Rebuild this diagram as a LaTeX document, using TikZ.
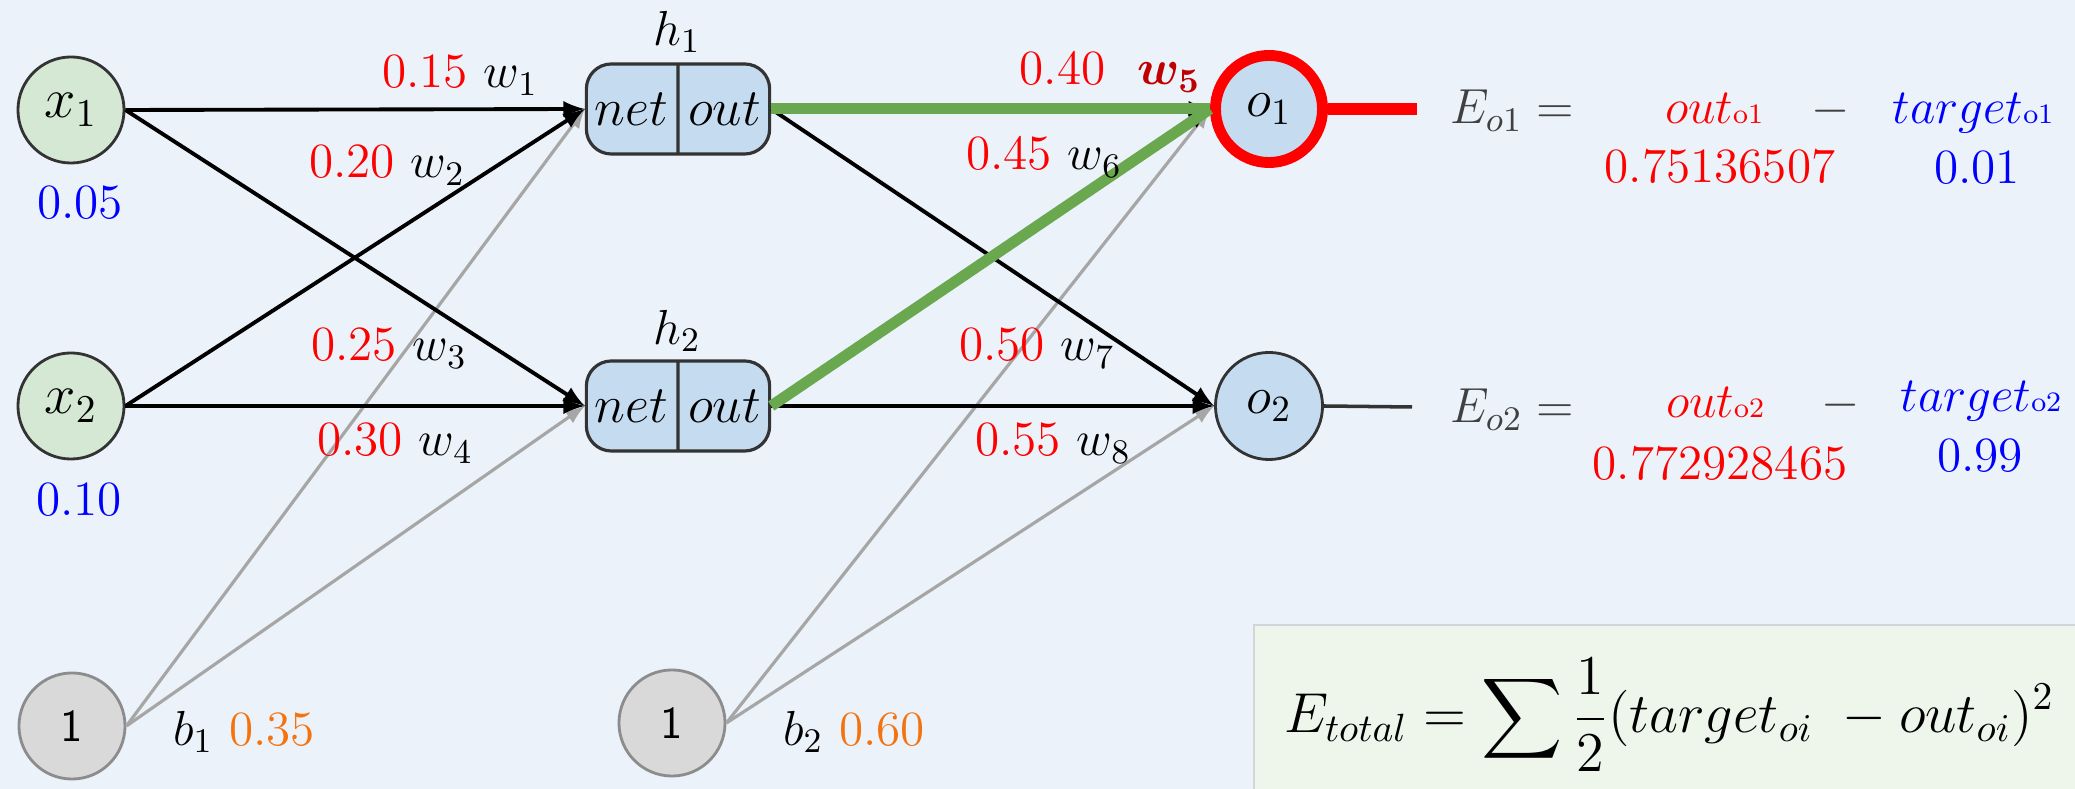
\RequirePackage{fix-cm}
\documentclass[tikz,border=0pt]{standalone}
\usepackage{amsmath}
\usepackage{amssymb}
\usepackage{bm}
\usepackage{tikz}
\usetikzlibrary{shapes.multipart}

\definecolor{bgblue}{HTML}{EBF2FA}
\definecolor{ingreen}{HTML}{D5E8D4}
\definecolor{nodeblue}{HTML}{C5DCF0}
\definecolor{biasgray}{HTML}{D9D9D9}
\definecolor{wiregray}{HTML}{A6A6A6}
\definecolor{hotgreen}{HTML}{6AA84F}
\definecolor{biasorange}{HTML}{F5730F}
\definecolor{wred}{HTML}{C00000}
\definecolor{txtgray}{HTML}{404040}
\definecolor{boxgreen}{HTML}{EEF6EC}
\definecolor{boxgray}{HTML}{D0D6DC}

\begin{document}
\begin{tikzpicture}[>=latex, x=0.01cm, y=-0.01cm,
	every node/.style={font=\fontsize{14}{17}\selectfont},
	innode/.style={circle, draw=black!80, line width=0.8pt, fill=ingreen, minimum size=1.06cm, inner sep=0pt, font=\fontsize{16}{19}\selectfont},
	outnode/.style={circle, draw=black!80, line width=0.8pt, fill=nodeblue, minimum size=1.07cm, inner sep=0pt, font=\fontsize{15}{18}\selectfont},
	biasnode/.style={circle, draw=black!45, line width=0.8pt, fill=biasgray, minimum size=1.06cm, inner sep=0pt, font=\fontsize{13}{16}\selectfont\sffamily},
	hidbox/.style={rectangle split, rectangle split horizontal, rectangle split parts=2, rounded corners=0.25cm, draw=black!80, line width=0.9pt, fill=nodeblue, minimum height=0.9cm, inner xsep=0pt, font=\fontsize{15}{18}\selectfont},
	wire/.style={->, line width=1.1pt, black},
	biaswire/.style={->, line width=0.9pt, wiregray},
	hotwire/.style={line width=0.11cm, hotgreen}]
	%%% Sfondo
	\fill[bgblue] (0,0) rectangle (2075,789);
	\useasboundingbox (0,0) rectangle (2075,789);
	%%% Nodi
	\node[innode] (x1) at (71,110) {$x_1$};
	\node[innode] (x2) at (71,406) {$x_2$};
	\node[biasnode] (b1) at (72,726) {1};
	\node[biasnode] (b2) at (672,723) {1};
	\node[hidbox] (h1) at (678,109) {\makebox[0.9cm]{$net$}\nodepart{two}\makebox[0.9cm]{$out$}};
	\node[hidbox] (h2) at (678,406) {\makebox[0.9cm]{$net$}\nodepart{two}\makebox[0.9cm]{$out$}};
	\node[outnode, draw=red, line width=3.1pt] (o1) at (1269,109) {$o_1$};
	\node[outnode] (o2) at (1269,406) {$o_2$};
	\coordinate (e1) at (1417,109);
	\coordinate (e2) at (1412,407);
	%%% Collegamenti
	\draw[biaswire] (b1.east) -- (h1.west);
	\draw[biaswire] (b1.east) -- (h2.west);
	\draw[biaswire] (b2.east) -- (o1.west);
	\draw[biaswire] (b2.east) -- (o2.west);
	\draw[wire] (x1.east) -- (h1.west);
	\draw[wire] (x1.east) -- (h2.west);
	\draw[wire] (x2.east) -- (h1.west);
	\draw[wire] (x2.east) -- (h2.west);
	\draw[wire] (h1.east) -- (o1.west);
	\draw[wire] (h1.east) -- (o2.west);
	\draw[wire] (h2.east) -- (o1.west);
	\draw[wire] (h2.east) -- (o2.west);
	\draw[hotwire] (h1.east) -- (o1.west);
	\draw[hotwire] (h2.east) -- (o1.west);
	\draw[red, line width=0.12cm] (o1.east) -- (e1);
	\draw[black!80, line width=1pt] (o2.east) -- (e2);
	%%% Etichette
	\node (h1lab) at (677,32) {$h_1$};
	\node (h2lab) at (677,331) {$h_2$};
	\node (x1val) at (80,203) {\textcolor{blue}{0.05}};
	\node (x2val) at (79,500) {\textcolor{blue}{0.10}};
	\node (b1lab) at (244,732) {$b_1$ \textcolor{biasorange}{0.35}};
	\node (b2lab) at (854,732) {$b_2$ \textcolor{biasorange}{0.60}};
	\node (w1lab) at (460,75) {\textcolor{red}{0.15} $w_1$};
	\node (w2lab) at (387,165) {\textcolor{red}{0.20} $w_2$};
	\node (w3lab) at (389,348) {\textcolor{red}{0.25} $w_3$};
	\node (w4lab) at (395,443) {\textcolor{red}{0.30} $w_4$};
	\node (w5lab) at (1110,72) {\textcolor{red}{0.40}\ \ \textcolor{wred}{$\bm{w_5}$}};
	\node (w6lab) at (1044,157) {\textcolor{red}{0.45} $w_6$};
	\node (w7lab) at (1037,348) {\textcolor{red}{0.50} $w_7$};
	\node (w8lab) at (1053,443) {\textcolor{red}{0.55} $w_8$};
	%%% Errori
	\node[anchor=base, txtgray] (eo1) at (1512,124) {$E_{o1} =$};
	\node[anchor=base, red] (out1) at (1714,124) {$out${\fontsize{8}{9}\selectfont o1}};
	\node[anchor=base, txtgray] (min1) at (1831,124) {$-$};
	\node[anchor=base, blue] (tg1) at (1973,124) {$target${\fontsize{8}{9}\selectfont o1}};
	\node[anchor=base, red] (ov1) at (1720,183) {0.75136507};
	\node[anchor=base, blue] (tv1) at (1977,184) {0.01};
	\node[anchor=base, txtgray] (eo2) at (1512,423) {$E_{o2} =$};
	\node[anchor=base, red] (out2) at (1715,418) {$out${\fontsize{8}{9}\selectfont o2}};
	\node[anchor=base, txtgray] (min2) at (1841,418) {$-$};
	\node[anchor=base, blue] (tg2) at (1981,412) {$target${\fontsize{8}{9}\selectfont o2}};
	\node[anchor=base, red] (ov2) at (1720,480) {0.772928465};
	\node[anchor=base, blue] (tv2) at (1980,472) {0.99};
	%%% Errore totale
	\draw[boxgray, fill=boxgreen] (1254,625) rectangle (2110,820);
	\node[anchor=west, inner sep=1pt, font=\fontsize{16}{19}\selectfont] (etot) at (1280,715) {$\displaystyle E_{total} = \sum \frac{1}{2}(target_{oi}\ - out_{oi})^2$};
\end{tikzpicture}
\end{document}
